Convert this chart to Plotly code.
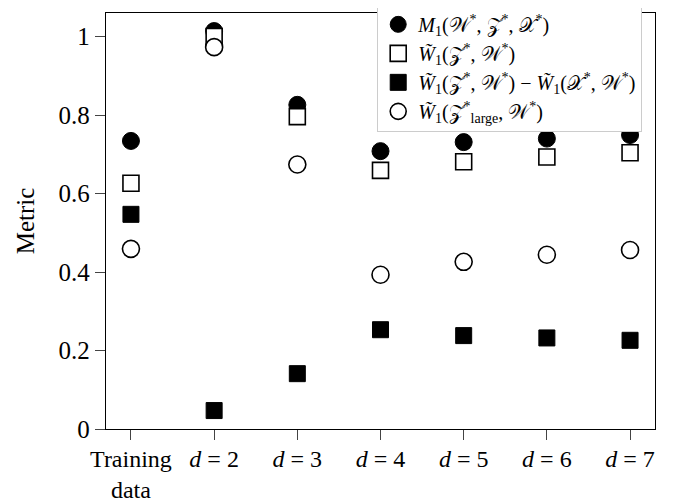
import plotly.graph_objects as go

categories = ["Training<br>data", "<i>d</i> = 2", "<i>d</i> = 3", "<i>d</i> = 4",
              "<i>d</i> = 5", "<i>d</i> = 6", "<i>d</i> = 7"]
x_pos = [0, 1, 2, 3, 4, 5, 6]

m1_vals = [0.734, 1.014, 0.826, 0.708, 0.731, 0.740, 0.749]
w1_vals = [0.626, 1.000, 0.796, 0.659, 0.681, 0.693, 0.704]
diff_vals = [0.547, 0.047, 0.141, 0.253, 0.238, 0.232, 0.226]
large_vals = [0.459, 0.973, 0.674, 0.393, 0.426, 0.444, 0.456]

y_ticks = [0, 0.2, 0.4, 0.6, 0.8, 1]
y_ticklabels = ["0", "0.2", "0.4", "0.6", "0.8", "1"]

W = "\U0001D4B2"  # script W
Z = "\U0001D4B5"  # script Z
X = "\U0001D4B3"  # script X
Wt = "<i>W\u0303</i><sub>1</sub>"
s = "<sup>*</sup>"

names = [
    f"<i>M</i><sub>1</sub>({W}{s}, {Z}{s}, {X}{s})",
    f"{Wt}({Z}{s}, {W}{s})",
    f"{Wt}({Z}{s}, {W}{s}) \u2212 {Wt}({X}{s}, {W}{s})",
    f"{Wt}({Z}{s}<sub>large</sub>, {W}{s})",
]

FONT = "Liberation Serif"
MS = 17

fig = go.Figure()
fig.add_trace(go.Scatter(x=x_pos, y=m1_vals, mode="markers", name=names[0],
                         marker=dict(symbol="circle", size=MS, color="black",
                                     line=dict(color="black", width=1))))
fig.add_trace(go.Scatter(x=x_pos, y=w1_vals, mode="markers", name=names[1],
                         marker=dict(symbol="square", size=MS - 1, color="white",
                                     line=dict(color="black", width=1.6))))
fig.add_trace(go.Scatter(x=x_pos, y=diff_vals, mode="markers", name=names[2],
                         marker=dict(symbol="square", size=MS - 1, color="black",
                                     line=dict(color="black", width=1))))
fig.add_trace(go.Scatter(x=x_pos, y=large_vals, mode="markers", name=names[3],
                         marker=dict(symbol="circle", size=MS, color="white",
                                     line=dict(color="black", width=1.6))))

fig.update_layout(
    width=666, height=496,
    margin=dict(l=98, r=19, t=5, b=75, autoexpand=False),
    paper_bgcolor="white", plot_bgcolor="white",
    font=dict(family=FONT, size=25, color="black"),
    showlegend=True,
    legend=dict(x=0.494, y=1.022, xanchor="left", yanchor="top",
                bgcolor="white", bordercolor="#cccccc", borderwidth=1,
                font=dict(family=FONT, size=20, color="black"),
                tracegroupgap=0, itemwidth=30),
    xaxis=dict(range=[-0.3, 6.3], tickmode="array", tickvals=x_pos,
               ticktext=categories, showgrid=False, zeroline=False,
               showline=True, linecolor="black", linewidth=1.3, mirror=True,
               ticks="outside", ticklen=10, tickcolor="#444", tickwidth=1,
               ticklabelstandoff=-2,
               tickfont=dict(family=FONT, size=24)),
    yaxis=dict(range=[0, 1.06], tickmode="array", tickvals=y_ticks,
               ticktext=y_ticklabels, showgrid=False, zeroline=False,
               showline=True, linecolor="black", linewidth=1.3, mirror=True,
               ticks="outside", ticklen=10, tickcolor="#444", tickwidth=1,
               tickfont=dict(family=FONT, size=25),
               title=dict(text="Metric", font=dict(family=FONT, size=25), standoff=16)),
)

fig.write_html("out.html")
